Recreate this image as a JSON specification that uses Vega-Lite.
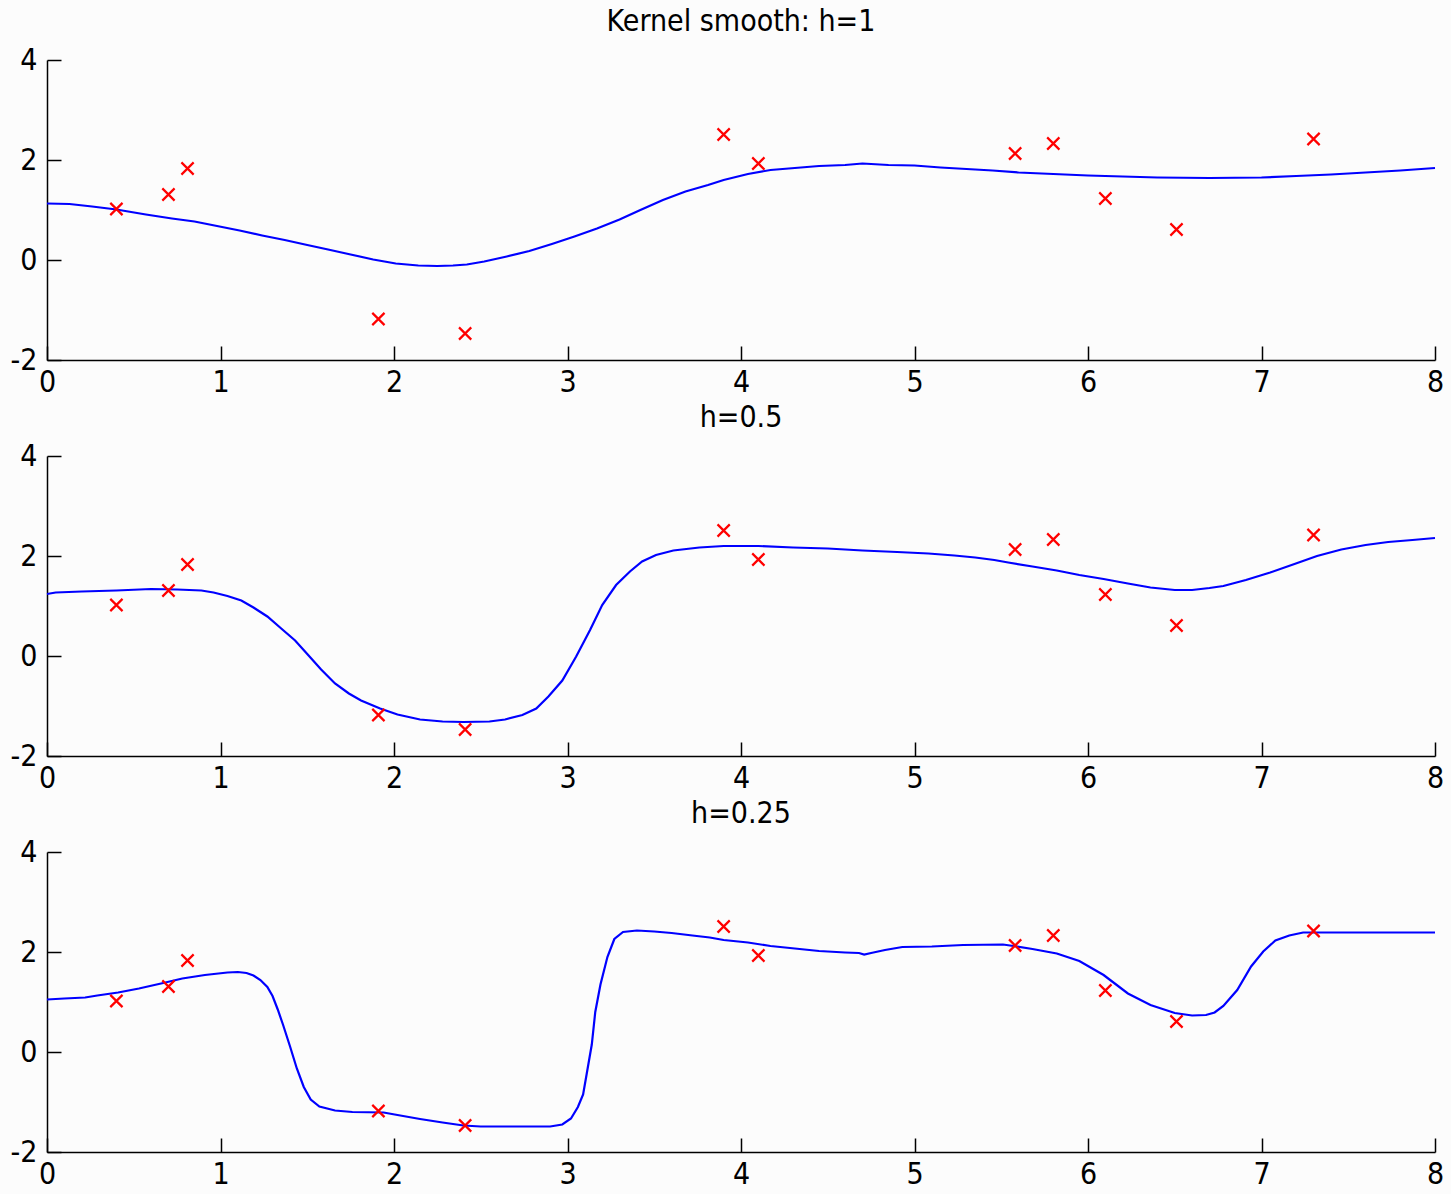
{
  "$schema": "https://vega.github.io/schema/vega-lite/v6.json",
  "background": "#fcfcfc",
  "padding": {"left": 10, "top": 7, "right": 16, "bottom": 5},
  "config": {
    "view": {"stroke": null},
    "font": "DejaVu Sans Condensed, Liberation Sans, sans-serif",
    "concat": {"spacing": 96},
    "axis": {
      "domainColor": "#000000",
      "domainWidth": 1.5,
      "tickColor": "#000000",
      "tickWidth": 1.5,
      "tickSize": -14,
      "grid": false,
      "labelFlush": false,
      "labelFont": "DejaVu Sans Condensed, Liberation Sans, sans-serif",
      "labelFontSize": 30,
      "labelColor": "#000000",
      "labelExpr": "'' + datum.value",
      "title": null
    },
    "title": {"font": "DejaVu Sans Condensed, Liberation Sans, sans-serif", "fontSize": 30, "fontWeight": "normal", "color": "#000000", "offset": 8, "anchor": "middle"}
  },
  "datasets": {
    "pts": [
      {"x": 0.4, "y": 1.02}, {"x": 0.7, "y": 1.31}, {"x": 0.81, "y": 1.83},
      {"x": 1.91, "y": -1.18}, {"x": 2.41, "y": -1.47}, {"x": 3.9, "y": 2.51},
      {"x": 4.1, "y": 1.93}, {"x": 5.58, "y": 2.13}, {"x": 5.8, "y": 2.33},
      {"x": 6.1, "y": 1.23}, {"x": 6.51, "y": 0.61}, {"x": 7.3, "y": 2.42}
    ],
    "c1": [
      {"x": 0, "y": 1.13}, {"x": 0.13, "y": 1.12}, {"x": 0.26, "y": 1.07}, {"x": 0.4, "y": 1.01},
      {"x": 0.57, "y": 0.91}, {"x": 0.72, "y": 0.83}, {"x": 0.85, "y": 0.77}, {"x": 0.98, "y": 0.68},
      {"x": 1.11, "y": 0.59}, {"x": 1.24, "y": 0.49}, {"x": 1.37, "y": 0.4}, {"x": 1.5, "y": 0.3},
      {"x": 1.62, "y": 0.21}, {"x": 1.75, "y": 0.11}, {"x": 1.88, "y": 0.01}, {"x": 2.01, "y": -0.07},
      {"x": 2.14, "y": -0.11}, {"x": 2.25, "y": -0.12}, {"x": 2.34, "y": -0.11}, {"x": 2.42, "y": -0.09},
      {"x": 2.52, "y": -0.03}, {"x": 2.65, "y": 0.07}, {"x": 2.78, "y": 0.18}, {"x": 2.91, "y": 0.32},
      {"x": 3.04, "y": 0.47}, {"x": 3.17, "y": 0.63}, {"x": 3.3, "y": 0.81}, {"x": 3.42, "y": 1.0},
      {"x": 3.55, "y": 1.2}, {"x": 3.68, "y": 1.37}, {"x": 3.81, "y": 1.5}, {"x": 3.9, "y": 1.6},
      {"x": 4.04, "y": 1.72}, {"x": 4.17, "y": 1.8}, {"x": 4.31, "y": 1.84}, {"x": 4.45, "y": 1.88},
      {"x": 4.6, "y": 1.9}, {"x": 4.7, "y": 1.93}, {"x": 4.85, "y": 1.9}, {"x": 5.0, "y": 1.89},
      {"x": 5.15, "y": 1.85}, {"x": 5.3, "y": 1.82}, {"x": 5.45, "y": 1.79}, {"x": 5.6, "y": 1.75},
      {"x": 5.8, "y": 1.72}, {"x": 6.0, "y": 1.69}, {"x": 6.2, "y": 1.67}, {"x": 6.4, "y": 1.65},
      {"x": 6.7, "y": 1.64}, {"x": 7.0, "y": 1.65}, {"x": 7.2, "y": 1.68}, {"x": 7.4, "y": 1.71},
      {"x": 7.6, "y": 1.75}, {"x": 7.8, "y": 1.79}, {"x": 8.0, "y": 1.84}
    ],
    "c2": [
      {"x": 0, "y": 1.24}, {"x": 0.05, "y": 1.27}, {"x": 0.2, "y": 1.29}, {"x": 0.4, "y": 1.31},
      {"x": 0.6, "y": 1.34}, {"x": 0.75, "y": 1.33}, {"x": 0.89, "y": 1.31}, {"x": 0.96, "y": 1.27},
      {"x": 1.04, "y": 1.2}, {"x": 1.12, "y": 1.11}, {"x": 1.19, "y": 0.97}, {"x": 1.27, "y": 0.79},
      {"x": 1.35, "y": 0.55}, {"x": 1.43, "y": 0.31}, {"x": 1.5, "y": 0.04}, {"x": 1.58, "y": -0.27},
      {"x": 1.66, "y": -0.55}, {"x": 1.74, "y": -0.75}, {"x": 1.81, "y": -0.89}, {"x": 1.92, "y": -1.05},
      {"x": 2.02, "y": -1.17}, {"x": 2.15, "y": -1.27}, {"x": 2.28, "y": -1.31}, {"x": 2.4, "y": -1.32},
      {"x": 2.55, "y": -1.31}, {"x": 2.64, "y": -1.27}, {"x": 2.74, "y": -1.18}, {"x": 2.82, "y": -1.05},
      {"x": 2.89, "y": -0.81}, {"x": 2.97, "y": -0.49}, {"x": 3.05, "y": -0.01}, {"x": 3.13, "y": 0.52},
      {"x": 3.2, "y": 1.02}, {"x": 3.28, "y": 1.42}, {"x": 3.36, "y": 1.69}, {"x": 3.43, "y": 1.89},
      {"x": 3.51, "y": 2.02}, {"x": 3.61, "y": 2.11}, {"x": 3.76, "y": 2.17}, {"x": 3.9, "y": 2.2},
      {"x": 4.1, "y": 2.2}, {"x": 4.3, "y": 2.17}, {"x": 4.5, "y": 2.15}, {"x": 4.7, "y": 2.11},
      {"x": 4.9, "y": 2.08}, {"x": 5.08, "y": 2.05}, {"x": 5.23, "y": 2.01}, {"x": 5.35, "y": 1.97},
      {"x": 5.46, "y": 1.92}, {"x": 5.54, "y": 1.87}, {"x": 5.68, "y": 1.79}, {"x": 5.82, "y": 1.71},
      {"x": 5.95, "y": 1.62}, {"x": 6.09, "y": 1.54}, {"x": 6.23, "y": 1.45}, {"x": 6.36, "y": 1.37},
      {"x": 6.5, "y": 1.32}, {"x": 6.6, "y": 1.32}, {"x": 6.7, "y": 1.36}, {"x": 6.78, "y": 1.4},
      {"x": 6.91, "y": 1.52}, {"x": 7.05, "y": 1.67}, {"x": 7.19, "y": 1.84}, {"x": 7.32, "y": 2.0},
      {"x": 7.46, "y": 2.13}, {"x": 7.6, "y": 2.22}, {"x": 7.73, "y": 2.28}, {"x": 7.87, "y": 2.32},
      {"x": 8.0, "y": 2.36}
    ],
    "c3": [
      {"x": 0, "y": 1.05}, {"x": 0.1, "y": 1.07}, {"x": 0.22, "y": 1.09}, {"x": 0.29, "y": 1.13},
      {"x": 0.41, "y": 1.19}, {"x": 0.53, "y": 1.27}, {"x": 0.67, "y": 1.38}, {"x": 0.78, "y": 1.47},
      {"x": 0.91, "y": 1.54}, {"x": 1.04, "y": 1.59}, {"x": 1.1, "y": 1.6}, {"x": 1.15, "y": 1.58},
      {"x": 1.19, "y": 1.53}, {"x": 1.23, "y": 1.44}, {"x": 1.27, "y": 1.3}, {"x": 1.3, "y": 1.12},
      {"x": 1.33, "y": 0.85}, {"x": 1.36, "y": 0.55}, {"x": 1.4, "y": 0.12}, {"x": 1.44, "y": -0.33},
      {"x": 1.48, "y": -0.7}, {"x": 1.52, "y": -0.95}, {"x": 1.57, "y": -1.09}, {"x": 1.66, "y": -1.17},
      {"x": 1.76, "y": -1.2}, {"x": 1.94, "y": -1.21}, {"x": 2.02, "y": -1.26}, {"x": 2.15, "y": -1.34},
      {"x": 2.28, "y": -1.41}, {"x": 2.4, "y": -1.47}, {"x": 2.5, "y": -1.49}, {"x": 2.9, "y": -1.49},
      {"x": 2.97, "y": -1.45}, {"x": 3.02, "y": -1.33}, {"x": 3.06, "y": -1.1}, {"x": 3.09, "y": -0.85},
      {"x": 3.11, "y": -0.45}, {"x": 3.14, "y": 0.15}, {"x": 3.16, "y": 0.8}, {"x": 3.19, "y": 1.35},
      {"x": 3.23, "y": 1.9}, {"x": 3.27, "y": 2.26}, {"x": 3.32, "y": 2.4}, {"x": 3.4, "y": 2.43},
      {"x": 3.5, "y": 2.41}, {"x": 3.6, "y": 2.38}, {"x": 3.72, "y": 2.33}, {"x": 3.82, "y": 2.29},
      {"x": 3.9, "y": 2.24}, {"x": 4.04, "y": 2.19}, {"x": 4.17, "y": 2.12}, {"x": 4.31, "y": 2.07},
      {"x": 4.45, "y": 2.02}, {"x": 4.6, "y": 1.99}, {"x": 4.68, "y": 1.98}, {"x": 4.71, "y": 1.95},
      {"x": 4.75, "y": 1.98}, {"x": 4.83, "y": 2.04}, {"x": 4.93, "y": 2.1}, {"x": 5.1, "y": 2.11},
      {"x": 5.28, "y": 2.14}, {"x": 5.51, "y": 2.15}, {"x": 5.57, "y": 2.12}, {"x": 5.68, "y": 2.06},
      {"x": 5.82, "y": 1.97}, {"x": 5.95, "y": 1.82}, {"x": 6.09, "y": 1.54}, {"x": 6.23, "y": 1.17},
      {"x": 6.36, "y": 0.94}, {"x": 6.5, "y": 0.78}, {"x": 6.6, "y": 0.73}, {"x": 6.68, "y": 0.74},
      {"x": 6.73, "y": 0.79}, {"x": 6.78, "y": 0.92}, {"x": 6.86, "y": 1.24}, {"x": 6.94, "y": 1.71},
      {"x": 7.01, "y": 2.01}, {"x": 7.08, "y": 2.23}, {"x": 7.16, "y": 2.33}, {"x": 7.24, "y": 2.39},
      {"x": 8.0, "y": 2.39}
    ]
  },
  "vconcat": [
    {
      "title": "Kernel smooth: h=1",
      "width": 1388, "height": 300,
      "layer": [
        {"data": {"name": "c1"}, "mark": {"type": "line", "color": "#0000ff", "strokeWidth": 2.2},
         "encoding": {"x": {"field": "x", "type": "quantitative"}, "y": {"field": "y", "type": "quantitative"}}},
        {"data": {"name": "pts"}, "mark": {"type": "point", "shape": "M-1,-1L1,1M-1,1L1,-1", "filled": false, "color": "#ff0000", "strokeWidth": 2.2, "size": 150, "opacity": 1},
         "encoding": {
           "x": {"field": "x", "type": "quantitative", "scale": {"domain": [0, 8], "nice": false}, "axis": {"values": [0,1,2,3,4,5,6,7,8], "labelPadding": 21}},
           "y": {"field": "y", "type": "quantitative", "scale": {"domain": [-2, 4], "nice": false, "zero": false}, "axis": {"values": [-2,0,2,4], "labelPadding": 24}}}}
      ]
    },
    {
      "title": "h=0.5",
      "width": 1388, "height": 300,
      "layer": [
        {"data": {"name": "c2"}, "mark": {"type": "line", "color": "#0000ff", "strokeWidth": 2.2},
         "encoding": {"x": {"field": "x", "type": "quantitative"}, "y": {"field": "y", "type": "quantitative"}}},
        {"data": {"name": "pts"}, "mark": {"type": "point", "shape": "M-1,-1L1,1M-1,1L1,-1", "filled": false, "color": "#ff0000", "strokeWidth": 2.2, "size": 150, "opacity": 1},
         "encoding": {
           "x": {"field": "x", "type": "quantitative", "scale": {"domain": [0, 8], "nice": false}, "axis": {"values": [0,1,2,3,4,5,6,7,8], "labelPadding": 21}},
           "y": {"field": "y", "type": "quantitative", "scale": {"domain": [-2, 4], "nice": false, "zero": false}, "axis": {"values": [-2,0,2,4], "labelPadding": 24}}}}
      ]
    },
    {
      "title": "h=0.25",
      "width": 1388, "height": 300,
      "layer": [
        {"data": {"name": "c3"}, "mark": {"type": "line", "color": "#0000ff", "strokeWidth": 2.2},
         "encoding": {"x": {"field": "x", "type": "quantitative"}, "y": {"field": "y", "type": "quantitative"}}},
        {"data": {"name": "pts"}, "mark": {"type": "point", "shape": "M-1,-1L1,1M-1,1L1,-1", "filled": false, "color": "#ff0000", "strokeWidth": 2.2, "size": 150, "opacity": 1},
         "encoding": {
           "x": {"field": "x", "type": "quantitative", "scale": {"domain": [0, 8], "nice": false}, "axis": {"values": [0,1,2,3,4,5,6,7,8], "labelPadding": 21}},
           "y": {"field": "y", "type": "quantitative", "scale": {"domain": [-2, 4], "nice": false, "zero": false}, "axis": {"values": [-2,0,2,4], "labelPadding": 24}}}}
      ]
    }
  ],
  "resolve": {"scale": {"x": "independent", "y": "independent"}},
  "bounds": "flush"
}
